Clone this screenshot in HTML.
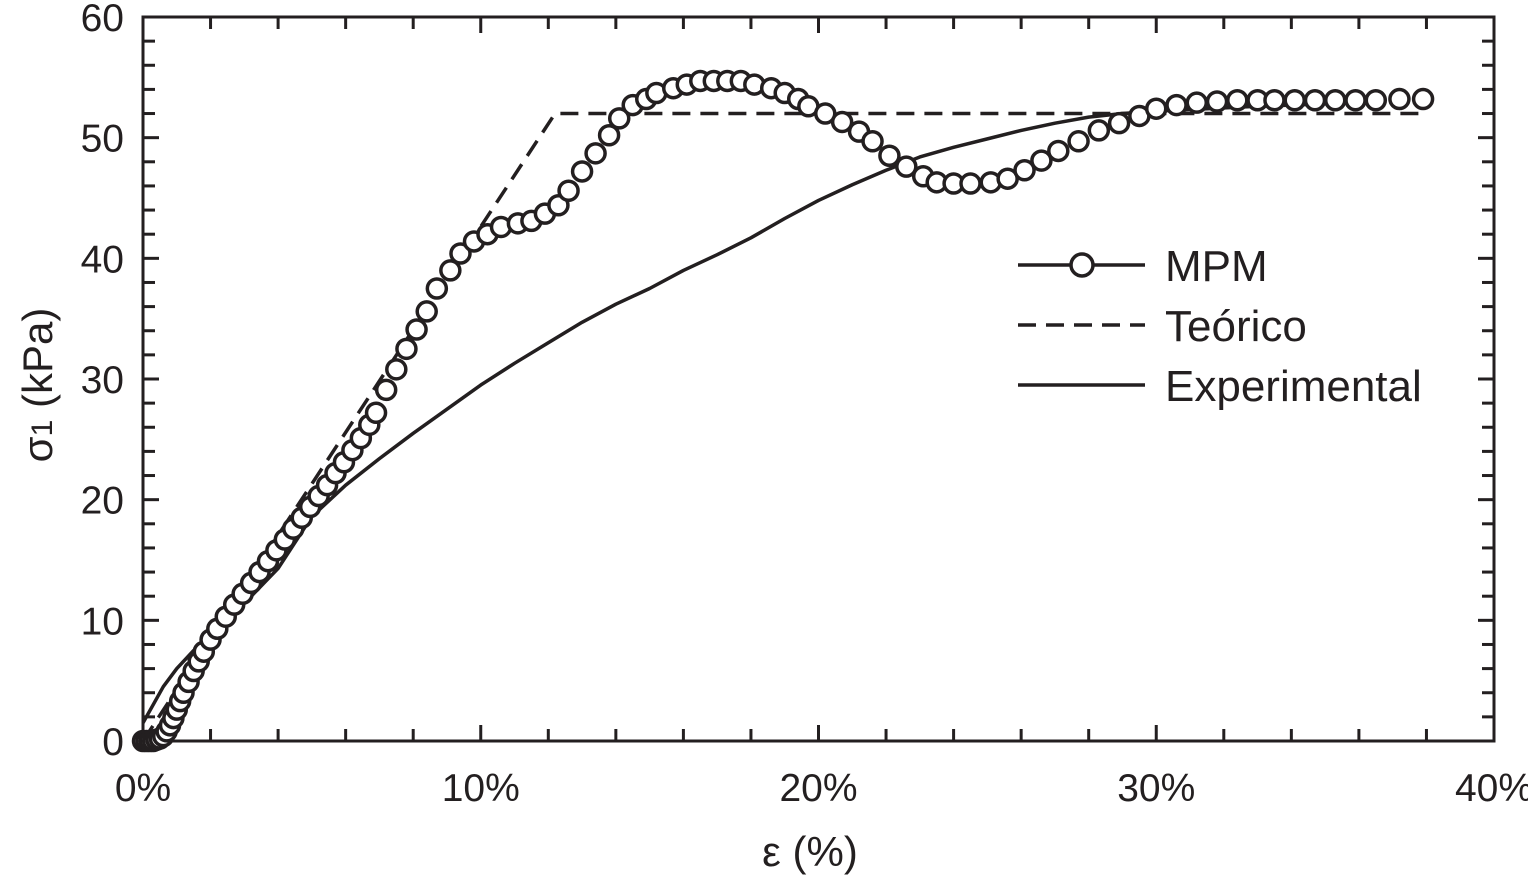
<!DOCTYPE html>
<html><head><meta charset="utf-8"><style>
body{margin:0;background:#fff}
svg text{font-family:"Liberation Sans",sans-serif;fill:#231f20}
</style></head><body>
<svg id="c" width="1528" height="878"></svg>
<script>
const xTicks=[0,10,20,30,40];
const xTickLabels=["0%","10%","20%","30%","40%"];
const yTicks=[0,10,20,30,40,50,60];
const mpmX=[0,0.1,0.2,0.3,0.4,0.5,0.6,0.7,0.8,0.9,1.0,1.1,1.2,1.35,1.5,1.65,1.8,2.0,2.2,2.45,2.7,2.95,3.2,3.45,3.7,3.95,4.2,4.45,4.7,4.95,5.2,5.45,5.7,5.95,6.2,6.45,6.7,6.9,7.2,7.5,7.8,8.1,8.4,8.7,9.1,9.4,9.8,10.2,10.6,11.1,11.5,11.9,12.3,12.6,13.0,13.4,13.8,14.1,14.5,14.9,15.2,15.7,16.1,16.5,16.9,17.3,17.7,18.1,18.6,19.0,19.4,19.7,20.2,20.7,21.2,21.6,22.1,22.6,23.1,23.5,24.0,24.5,25.1,25.6,26.1,26.6,27.1,27.7,28.3,28.9,29.5,30.0,30.6,31.2,31.8,32.4,33.0,33.5,34.1,34.7,35.3,35.9,36.5,37.2,37.9];
const mpmY=[0,0,0,0,0.1,0.2,0.4,0.8,1.3,1.9,2.6,3.3,4,4.9,5.8,6.6,7.4,8.4,9.3,10.3,11.3,12.2,13.1,14,14.9,15.8,16.7,17.6,18.5,19.4,20.3,21.2,22.2,23.1,24.1,25.1,26.2,27.2,29.1,30.8,32.5,34.1,35.6,37.5,39,40.4,41.4,42,42.6,42.9,43.1,43.7,44.4,45.6,47.2,48.7,50.2,51.6,52.7,53.2,53.7,54.1,54.4,54.7,54.7,54.7,54.7,54.4,54.1,53.7,53.2,52.6,52,51.3,50.5,49.7,48.5,47.6,46.8,46.3,46.2,46.2,46.3,46.6,47.3,48.1,48.9,49.7,50.6,51.2,51.8,52.4,52.7,52.9,53,53.1,53.1,53.1,53.1,53.1,53.1,53.1,53.1,53.2,53.2];
const teoX=[0,12.2,38];
const teoY=[0,52,52];
const expX=[0,0.3,0.6,1,1.5,2,2.5,3,4,5,6,7,8,9,10,11,12,13,14,15,16,17,18,19,20,21,22,23,24,25,26,27,28,29,30,31.5,33,35,36.8];
const expY=[1.5,3,4.5,6,7.5,8.8,10,11.4,14.3,18.6,21.2,23.4,25.5,27.5,29.5,31.3,33,34.7,36.2,37.5,39,40.3,41.7,43.3,44.8,46.1,47.3,48.4,49.2,49.9,50.6,51.2,51.7,52,52.2,52.4,52.6,52.8,53];
const NS="http://www.w3.org/2000/svg",svg=document.getElementById('c');
const X0=143,X1=1494,Y0=741,Y1=17;
const sx=v=>X0+(v/40)*(X1-X0), sy=v=>Y0-(v/60)*(Y0-Y1);
function mk(t,a,p){const e=document.createElementNS(NS,t);for(const k in a)e.setAttribute(k,a[k]);(p||svg).appendChild(e);return e;}
const frame=mk('rect',{x:X0,y:Y1,width:X1-X0,height:Y0-Y1,fill:'none',stroke:'#231f20','stroke-width':3});


for(let v=0;v<=40;v+=2){const x=sx(v),L=v%10==0?16:12;
mk('line',{x1:x,x2:x,y1:Y0,y2:Y0-L,stroke:'#231f20','stroke-width':3});
mk('line',{x1:x,x2:x,y1:Y1,y2:Y1+L,stroke:'#231f20','stroke-width':3});}
for(let v=0;v<=60;v+=2){const y=sy(v),L=v%10==0?16:12;
mk('line',{x1:X0,x2:X0+L,y1:y,y2:y,stroke:'#231f20','stroke-width':3});
mk('line',{x1:X1,x2:X1-L,y1:y,y2:y,stroke:'#231f20','stroke-width':3});}
xTicks.forEach((v,i)=>{const t=mk('text',{x:sx(v),y:801,'font-size':39,'text-anchor':'middle'});t.textContent=xTickLabels[i];

});
yTicks.forEach(v=>{const t=mk('text',{x:124,y:sy(v)+14,'font-size':39,'text-anchor':'end'});t.textContent=v;

});
const xt=mk('text',{x:810,y:866,'font-size':42,'text-anchor':'middle'});xt.textContent='ε (%)';


const yt=mk('text',{x:0,y:0,'font-size':42,'text-anchor':'middle',transform:'translate(52,385) rotate(-90)'});
yt.innerHTML='σ<tspan font-size="30">1</tspan> (kPa)';


const pts=(xs,ys)=>xs.map((v,i)=>sx(v)+','+sy(ys[i])).join(' ');
const ex=mk('polyline',{points:pts(expX,expY),fill:'none',stroke:'#231f20','stroke-width':3.5,'stroke-linejoin':'round'});


const te=mk('polyline',{points:pts(teoX,teoY),fill:'none',stroke:'#231f20','stroke-width':3.5,'stroke-dasharray':'18,10'});


const g=mk('g',{});


mpmX.forEach((v,i)=>{const c=mk('circle',{cx:sx(v),cy:sy(mpmY[i]),r:9.5,fill:'#fff',stroke:'#231f20','stroke-width':3.5},g);

});
const leg=mk('g',{});


[['MPM',265,''],['Teórico',325,'18,10'],['Experimental',385,'']].forEach(([n,y,d])=>{
const l=mk('line',{x1:1018,x2:1145,y1:y,y2:y,stroke:'#231f20','stroke-width':3.5,'stroke-dasharray':d},leg);


if(n==='MPM'){const c=mk('circle',{cx:1082,cy:y,r:11,fill:'#fff',stroke:'#231f20','stroke-width':3.5},leg);

}
const t=mk('text',{x:1165,y:y+16,'font-size':44},leg);t.textContent=n;

});
</script>
</body></html>
